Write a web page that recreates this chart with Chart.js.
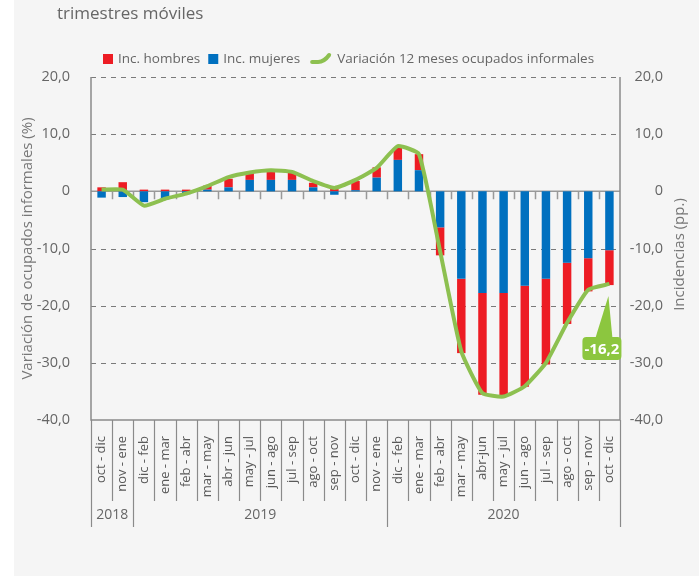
<!DOCTYPE html>
<html>
<head>
<meta charset="utf-8">
<script src="https://cdn.jsdelivr.net/npm/chart.js@4.4.0/dist/chart.umd.min.js"></script>
<style>
  body { margin: 0; background: #fff; }
  canvas { display: block; }
</style>
</head>
<body>
<canvas id="myChart" width="699" height="576"></canvas>
<script>
const myChart = document.getElementById("myChart");

const labels = [
  "oct - dic", "nov - ene",
  "dic - feb", "ene - mar", "feb - abr", "mar - may", "abr - jun", "may - jul",
  "jun - ago", "jul - sep", "ago - oct", "sep - nov", "oct - dic", "nov - ene",
  "dic - feb", "ene - mar", "feb - abr", "mar - may", "abr-jun", "may - jul",
  "jun - ago", "jul - sep", "ago - oct", "sep - nov", "oct - dic",
];
const yearLabels = ["2018", "2019", "2020"];
const yearSpans = [2, 12, 11];

const mujeres = [-1.1, -1.0, -1.9, -1.4, -0.5, 0.3, 0.7, 2.0, 2.0, 2.0, 0.7, -0.6, 0.2,
  2.4, 5.5, 3.7, -6.3, -15.3, -17.8, -17.8, -16.5, -15.3, -12.5, -11.7, -10.3];
const hombres = [0.7, 1.6, 0.3, 0.3, 0.3, 0.7, 1.5, 1.4, 1.6, 1.3, 0.8, 0.5, 1.6,
  1.8, 2.1, 2.8, -4.9, -13.0, -17.8, -17.9, -17.7, -15.0, -10.7, -5.8, -6.1];
const variacion = [0.3, 0.3, -2.5, -1.3, -0.4, 0.9, 2.5, 3.3, 3.7, 3.4, 1.8, 0.6, 2.0,
  4.1, 7.9, 6.5, -10.5, -28.0, -35.3, -35.9, -34.1, -30.0, -23.0, -17.2, -16.2];

const yTicks = [20, 10, 0, -10, -20, -30, -40];

const red = "#ed1c24";
const blue = "#0070bf";
const green = "#8dc050";
const grey = "#666";

Chart.defaults.font.family = "'Open Sans', sans-serif";

function fmt(v) {
  return v === 0 ? "0" : v.toFixed(1).replace(".", ",");
}

// background, grid, axis lines and x separators
const decor = {
  id: "decor",
  beforeDraw(chart) {
    const ctx = chart.ctx;
    ctx.save();
    ctx.fillStyle = "#fff";
    ctx.fillRect(0, 0, chart.width, chart.height);
    ctx.fillStyle = "#f5f5f5";
    ctx.fillRect(14, 0, chart.width - 14, chart.height);

    ctx.fillStyle = grey;
    ctx.font = "17px 'Open Sans'";
    ctx.textBaseline = "middle";
    ctx.fillText("trimestres móviles", 57, 14);
    ctx.restore();
  },
  beforeDatasetsDraw(chart) {
    const ctx = chart.ctx;
    const { left, right, top, bottom } = chart.chartArea;
    const y = chart.scales.y;
    const x = chart.scales.x;
    ctx.save();
    ctx.strokeStyle = "#7a7a7a";
    ctx.lineWidth = 1;
    ctx.setLineDash([5, 5]);
    yTicks.forEach((v) => {
      if (v === 0 || v === -40) return;
      const py = Math.round(y.getPixelForValue(v)) + 0.5;
      ctx.beginPath();
      ctx.moveTo(left, py);
      ctx.lineTo(right, py);
      ctx.stroke();
    });
    ctx.setLineDash([]);

    // zero line with small ticks
    ctx.strokeStyle = "#999";
    ctx.lineWidth = 1.5;
    const y0 = y.getPixelForValue(0);
    ctx.beginPath();
    ctx.moveTo(left, y0);
    ctx.lineTo(right, y0);
    for (let i = 1; i < labels.length; i++) {
      const px = Math.round(x.getPixelForValue(i - 0.5)) + 0.5;
      ctx.moveTo(px, y0);
      ctx.lineTo(px, y0 + 8);
    }
    ctx.stroke();

    // frame
    ctx.strokeStyle = "#8a8a8a";
    ctx.beginPath();
    ctx.moveTo(left, top);
    ctx.lineTo(left, bottom);
    ctx.lineTo(right, bottom);
    ctx.lineTo(right, top);
    ctx.stroke();

    // category separators and year groups
    ctx.lineWidth = 1.2;
    let yearStarts = [0];
    yearSpans.forEach((n, k) => yearStarts.push(yearStarts[k] + n));
    for (let i = 0; i <= labels.length; i++) {
      const px = Math.round(x.getPixelForValue(i - 0.5)) + 0.5;
      const long = yearStarts.includes(i);
      ctx.beginPath();
      ctx.moveTo(px, bottom);
      ctx.lineTo(px, long ? bottom + 107 : bottom + 81);
      ctx.stroke();
    }
    ctx.fillStyle = grey;
    ctx.font = "14px 'Open Sans'";
    ctx.textAlign = "center";
    ctx.textBaseline = "middle";
    yearLabels.forEach((t, k) => {
      const a = x.getPixelForValue(yearStarts[k] - 0.5);
      const b = x.getPixelForValue(yearStarts[k + 1] - 0.5);
      ctx.fillText(t, (a + b) / 2, bottom + 95);
    });

    // axis titles
    ctx.font = "15px 'Open Sans'";
    ctx.fillStyle = "#777";
    const cy = (top + bottom) / 2;
    ctx.translate(28, cy);
    ctx.rotate(-Math.PI / 2);
    ctx.fillText("Variación de ocupados informales (%)", 0, 0);
    ctx.rotate(Math.PI / 2);
    ctx.translate(-28, -cy);
    ctx.translate(680, cy + 6);
    ctx.rotate(-Math.PI / 2);
    ctx.fillText("Incidencias (pp.)", 0, 0);
    ctx.restore();
  },
  afterDatasetsDraw(chart) {
    const ctx = chart.ctx;
    ctx.save();

    // legend
    ctx.font = "13.5px 'Open Sans'";
    ctx.textBaseline = "middle";
    ctx.fillStyle = grey;
    let lx = 103;
    const ly = 59;
    const items = [
      { text: chart.data.datasets[1].label, color: red },
      { text: chart.data.datasets[0].label, color: blue },
    ];
    items.forEach((it) => {
      ctx.fillStyle = it.color;
      ctx.fillRect(lx, ly - 5, 10, 10);
      ctx.fillStyle = grey;
      ctx.fillText(it.text, lx + 15, ly);
      lx += 15 + ctx.measureText(it.text).width + 8;
    });
    lx += 2;
    ctx.strokeStyle = green;
    ctx.lineWidth = 4;
    ctx.lineCap = "round";
    ctx.beginPath();
    ctx.moveTo(lx + 2, ly + 3);
    ctx.lineTo(lx + 8, ly + 3);
    ctx.quadraticCurveTo(lx + 14, ly + 3, lx + 19, ly - 4);
    ctx.stroke();
    ctx.fillText(chart.data.datasets[2].label, lx + 27, ly);

    // callout for last value
    const meta = chart.getDatasetMeta(2);
    const pt = meta.data[meta.data.length - 1];
    const bw = 39, bh = 23;
    const bx = pt.x - 27, by = pt.y + 53;
    ctx.fillStyle = "#8cc63f";
    ctx.beginPath();
    ctx.moveTo(pt.x - 14, by + 1);
    ctx.lineTo(pt.x - 1, pt.y + 12);
    ctx.lineTo(pt.x + 3, by + 1);
    ctx.closePath();
    ctx.fill();
    ctx.beginPath();
    ctx.roundRect(bx, by, bw, bh, 4);
    ctx.fill();
    ctx.fillStyle = "#fff";
    ctx.font = "bold 15px 'Open Sans'";
    ctx.textAlign = "center";
    ctx.fillText(fmt(variacion[variacion.length - 1]), bx + bw / 2, by + bh / 2 + 1);
    ctx.restore();
  },
};

new Chart(myChart, {
  type: "bar",
  data: {
    labels: labels,
    datasets: [
      {
        label: "Inc. mujeres",
        data: mujeres,
        backgroundColor: blue,
        order: 1,
        categoryPercentage: 1,
        barPercentage: 0.4,
      },
      {
        label: "Inc. hombres",
        data: hombres,
        backgroundColor: red,
        order: 1,
        categoryPercentage: 1,
        barPercentage: 0.4,
      },
      {
        type: "line",
        label: "Variación 12 meses ocupados informales",
        data: variacion,
        borderColor: green,
        borderWidth: 4,
        pointRadius: 0,
        tension: 0.15,
        fill: false,
        order: 0,
      },
    ],
  },
  options: {
    responsive: false,
    animation: false,
    devicePixelRatio: 1,
    layout: { padding: { top: 77, left: 0, right: 36, bottom: 0 } },
    plugins: {
      legend: { display: false },
      tooltip: { enabled: false },
    },
    scales: {
      x: {
        stacked: true,
        offset: true,
        grid: { display: false },
        border: { display: false },
        ticks: {
          autoSkip: false,
          maxRotation: 90,
          minRotation: 90,
          padding: 8,
          color: "#595959",
          font: { size: 13 },
        },
        afterFit(scale) { scale.height = 156; },
      },
      y: {
        stacked: true,
        position: "left",
        min: -40,
        max: 20,
        afterBuildTicks(scale) { scale.ticks = yTicks.map((v) => ({ value: v })); },
        grid: { display: false },
        border: { display: false },
        ticks: { callback: fmt, padding: 13, color: grey, font: { size: 14.5 } },
        afterFit(scale) { scale.width = 91; },
      },
      y2: {
        position: "right",
        min: -40,
        max: 20,
        afterBuildTicks(scale) { scale.ticks = yTicks.map((v) => ({ value: v })); },
        grid: { display: false },
        border: { display: false },
        ticks: { callback: fmt, padding: 7, crossAlign: "far", color: grey, font: { size: 14.5 } },
        afterFit(scale) { scale.width = 43; },
      },
    },
  },
  plugins: [decor],
});
</script>
</body>
</html>
